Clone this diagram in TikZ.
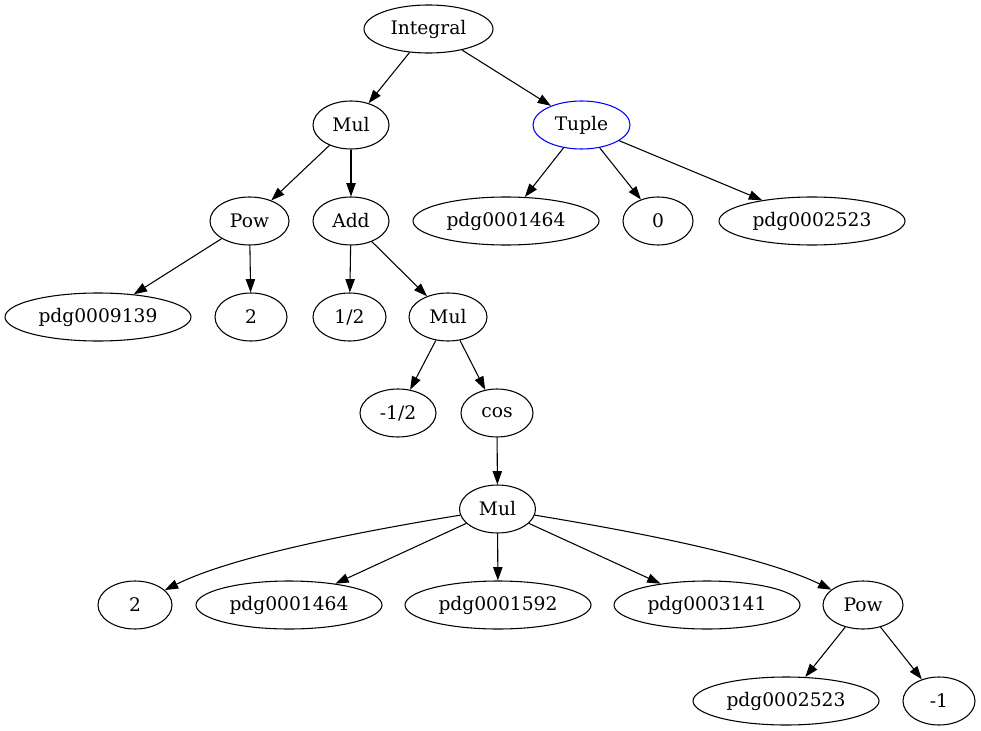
\documentclass[tikz,border=0pt]{standalone}
\usepackage{fontspec}
\setmainfont{DejaVu Serif}
\usetikzlibrary{shapes.geometric,arrows.meta}
\begin{document}
\begin{tikzpicture}[x=0.75pt,y=-0.75pt,
  nd/.style={ellipse,draw,line width=0.8pt,inner sep=0pt,minimum height=36pt,font=\fontsize{14}{16}\selectfont},
  edge/.style={-{Triangle[length=10pt,width=7pt]},line width=0.8pt}]
\useasboundingbox (0,0) rectangle (981,731);
% rank 1
\node[nd,minimum width=96.75pt] (integral) at (428.5,29) {Integral};
% rank 2
\node[nd,minimum width=57pt] (mulA) at (351,125) {Mul};
\node[nd,minimum width=72.75pt,draw=blue] (tuple) at (581.5,125) {Tuple};
% rank 3
\node[nd,minimum width=59.25pt] (powA) at (249.5,221) {Pow};
\node[nd,minimum width=57pt] (add) at (351,221) {Add};
\node[nd,minimum width=139.5pt] (tpA) at (506,221) {pdg0001464};
\node[nd,minimum width=52.5pt] (zero) at (658,221) {0};
\node[nd,minimum width=139.5pt] (tpB) at (812,221) {pdg0002523};
% rank 4
\node[nd,minimum width=139.5pt] (p9139) at (98,317) {pdg0009139};
\node[nd,minimum width=54pt] (twoA) at (251,317) {2};
\node[nd,minimum width=54.75pt] (half) at (349.5,317) {1/2};
\node[nd,minimum width=58.5pt] (mulB) at (448,317) {Mul};
% rank 5
\node[nd,minimum width=57pt] (mhalf) at (398,413) {-1/2};
\node[nd,minimum width=54pt] (cos) at (497,413) {cos};
% rank 6
\node[nd,minimum width=57pt] (mulC) at (497.5,509) {Mul};
% rank 7
\node[nd,minimum width=55.5pt] (twoB) at (135,605) {2};
\node[nd,minimum width=139.5pt] (p1464) at (289,605) {pdg0001464};
\node[nd,minimum width=139.5pt] (p1592) at (498,605) {pdg0001592};
\node[nd,minimum width=139.5pt] (p3141) at (707,605) {pdg0003141};
\node[nd,minimum width=60pt] (powB) at (863,605) {Pow};
% rank 8
\node[nd,minimum width=139.5pt] (p2523) at (786,701) {pdg0002523};
\node[nd,minimum width=54pt] (mone) at (939,701) {-1};
% edges
\draw[edge] (integral) -- (mulA);
\draw[edge] (integral) -- (tuple);
\draw[edge] (mulA) -- (powA);
\draw[edge] (mulA) -- (add);
\draw[edge] (tuple) -- (tpA);
\draw[edge] (tuple) -- (zero);
\draw[edge] (tuple) -- (tpB);
\draw[edge] (powA) -- (p9139);
\draw[edge] (powA) -- (twoA);
\draw[edge] (add) -- (half);
\draw[edge] (add) -- (mulB);
\draw[edge] (mulB) -- (mhalf);
\draw[edge] (mulB) -- (cos);
\draw[edge] (cos) -- (mulC);
\draw[edge] (mulC) .. controls (370,530) and (235,555) .. (twoB);
\draw[edge] (mulC) -- (p1464);
\draw[edge] (mulC) -- (p1592);
\draw[edge] (mulC) -- (p3141);
\draw[edge] (mulC) .. controls (625,530) and (760,555) .. (powB);
\draw[edge] (powB) -- (p2523);
\draw[edge] (powB) -- (mone);
\end{tikzpicture}
\end{document}
